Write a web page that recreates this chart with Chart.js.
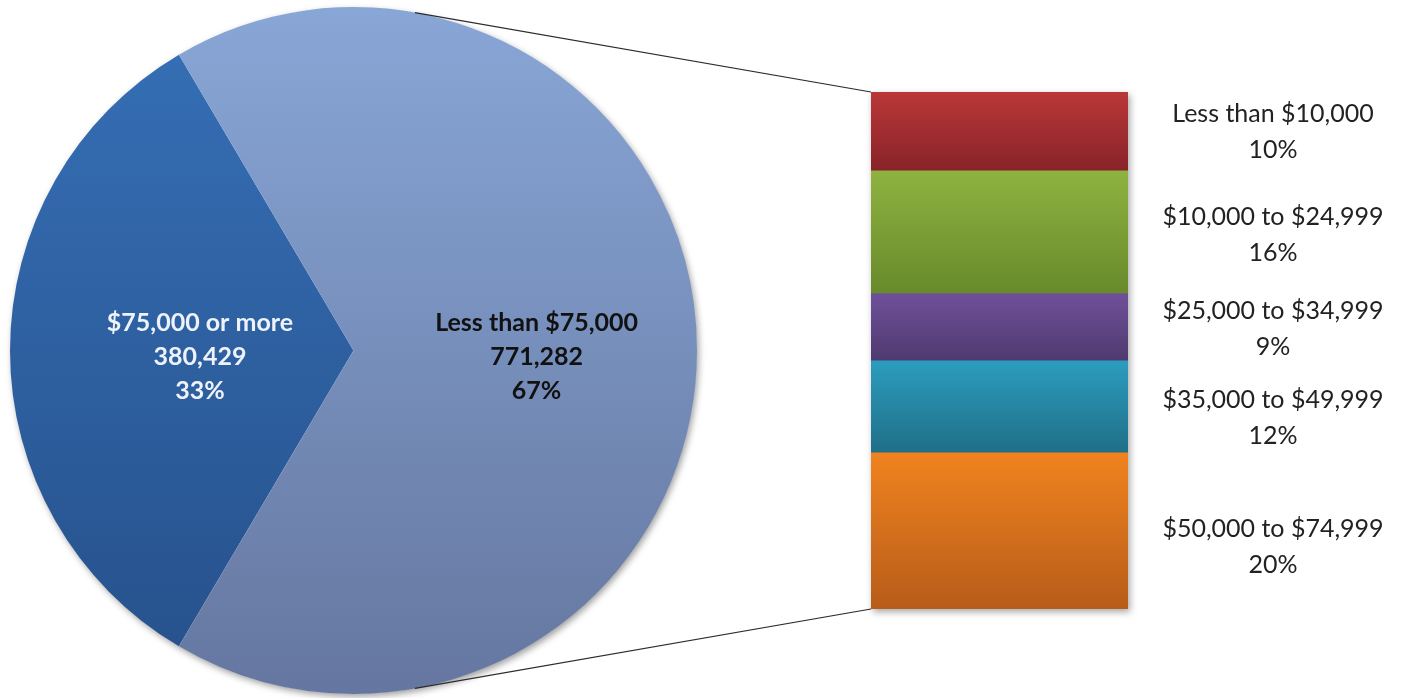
<!DOCTYPE html>
<html><head><meta charset="utf-8">
<script src="https://cdn.jsdelivr.net/npm/chart.js@4.4.1/dist/chart.umd.min.js"></script>
<style>
html,body{margin:0;padding:0;background:#fff;}
#wrap{position:relative;width:1405px;height:698px;overflow:hidden;}
#wrap canvas{position:absolute;left:0;top:0;}
</style></head><body>
<div id="wrap"><canvas id="pie" width="1405" height="698"></canvas><canvas id="bar" width="1405" height="698"></canvas></div>
<script>
// ---- data ----
const pieLabels = ['$75,000 or more', 'Less than $75,000'];
const pieValues = [380429, 771282];
const barLabels = ['Less than $10,000', '$10,000 to $24,999', '$25,000 to $34,999', '$35,000 to $49,999', '$50,000 to $74,999'];
const barValues = [10.1, 15.9, 8.7, 11.9, 20.3];

// ---- styles ----
const pieTop = ['#3670b7', '#88a6d6'];
const pieBottom = ['#26508a', '#6577a0'];
const pieTextColor = ['#eef2fa', '#111111'];
const pieLabelRadius = [0.447, 0.533];
const barTop = ['#ba3737', '#8eb340', '#6f509a', '#2c9dbf', '#f1831f'];
const barBottom = ['#88232a', '#688a2b', '#4f3a70', '#1f6f88', '#b75c19'];
const barLabelDy = [1, 3, 2, 12, 16];
const FONT = 'Lato, "Open Sans", sans-serif';

const barTotal = barValues.reduce((a, b) => a + b, 0);
const pieTotal = pieValues.reduce((a, b) => a + b, 0);

// ---------- stacked bar (breakdown) ----------
const barShadow = {
  id: 'barShadow',
  beforeDatasetsDraw(chart) {
    const first = chart.getDatasetMeta(0).data[0];
    const last = chart.getDatasetMeta(barValues.length - 1).data[0];
    if (!first || !last) return;
    const ctx = chart.ctx;
    const left = first.x - first.width / 2;
    const top = Math.min(first.y, first.base);
    const bottom = Math.max(last.y, last.base);
    ctx.save();
    ctx.shadowColor = 'rgba(0,0,0,0.35)';
    ctx.shadowBlur = 7;
    ctx.shadowOffsetX = 2;
    ctx.shadowOffsetY = 3;
    ctx.fillStyle = '#ffffff';
    ctx.fillRect(left, top, first.width, bottom - top);
    ctx.restore();
  }
};
const barText = {
  id: 'barText',
  afterDatasetsDraw(chart) {
    const ctx = chart.ctx;
    ctx.save();
    ctx.font = '25px ' + FONT;
    ctx.fillStyle = '#222222';
    ctx.textAlign = 'center';
    ctx.textBaseline = 'middle';
    const x = chart.chartArea.right + 145;
    barValues.forEach((v, i) => {
      const el = chart.getDatasetMeta(i).data[0];
      const cy = (el.y + el.base) / 2 + barLabelDy[i];
      ctx.fillText(barLabels[i], x, cy - 18);
      ctx.fillText(Math.round(v) + '%', x, cy + 18);
    });
    ctx.restore();
  }
};
function barGradient(c) {
  const chart = c.chart, i = c.datasetIndex;
  const y = chart.scales.y;
  if (!y || !chart.chartArea) return barTop[i];
  let start = 0;
  for (let k = 0; k < i; k++) start += barValues[k];
  const y0 = y.getPixelForValue(start), y1 = y.getPixelForValue(start + barValues[i]);
  if (!isFinite(y0) || !isFinite(y1)) return barTop[i];
  const g = chart.ctx.createLinearGradient(0, y0, 0, y1);
  g.addColorStop(0, barTop[i]);
  g.addColorStop(1, barBottom[i]);
  return g;
}
const barChart = new Chart(document.getElementById('bar'), {
  type: 'bar',
  data: {
    labels: ['Less than $75,000'],
    datasets: barValues.map((v, i) => ({
      label: barLabels[i],
      data: [v],
      backgroundColor: barGradient,
      borderWidth: 0,
      barPercentage: 1,
      categoryPercentage: 1
    }))
  },
  options: {
    responsive: false,
    animation: false,
    layout: { padding: { left: 871, right: 277, top: 92, bottom: 89 } },
    scales: {
      x: { display: false, stacked: true },
      y: { display: false, stacked: true, reverse: true, min: 0, max: barTotal }
    },
    plugins: { legend: { display: false }, tooltip: { enabled: false } }
  },
  plugins: [barShadow, barText]
});

// ---------- pie ----------
const pieShadow = {
  id: 'pieShadow',
  beforeDatasetsDraw(chart) {
    const arc = chart.getDatasetMeta(0).data[0];
    if (!arc) return;
    const ctx = chart.ctx;
    ctx.save();
    ctx.shadowColor = 'rgba(0,0,0,0.4)';
    ctx.shadowBlur = 7;
    ctx.shadowOffsetX = 2;
    ctx.shadowOffsetY = 3;
    ctx.fillStyle = '#ffffff';
    ctx.beginPath();
    ctx.arc(arc.x, arc.y, arc.outerRadius - 0.5, 0, Math.PI * 2);
    ctx.fill();
    ctx.restore();
  }
};
const pieText = {
  id: 'pieText',
  afterDatasetsDraw(chart) {
    const ctx = chart.ctx;
    const arcs = chart.getDatasetMeta(0).data;
    ctx.save();
    ctx.font = 'bold 25px ' + FONT;
    ctx.textAlign = 'center';
    ctx.textBaseline = 'middle';
    arcs.forEach((arc, i) => {
      const mid = (arc.startAngle + arc.endAngle) / 2;
      const r = arc.outerRadius * pieLabelRadius[i];
      const x = arc.x + r * Math.cos(mid);
      const y = arc.y + r * Math.sin(mid) + 6;
      ctx.fillStyle = pieTextColor[i];
      const lines = [pieLabels[i], pieValues[i].toLocaleString('en-US'), Math.round(pieValues[i] / pieTotal * 100) + '%'];
      lines.forEach((t, k) => ctx.fillText(t, x, y + (k - 1) * 34));
    });
    ctx.restore();
  }
};
const connectors = {
  id: 'connectors',
  afterDraw(chart) {
    const arc = chart.getDatasetMeta(0).data[1];
    const first = barChart.getDatasetMeta(0).data[0];
    const last = barChart.getDatasetMeta(barValues.length - 1).data[0];
    if (!arc || !first || !last) return;
    const ctx = chart.ctx;
    const off = 10.3 * Math.PI / 180;
    const a1 = -Math.PI / 2 + off, a2 = Math.PI / 2 - off;
    const bx = first.x - first.width / 2;
    const bTop = Math.min(first.y, first.base);
    const bBot = Math.max(last.y, last.base);
    ctx.save();
    ctx.strokeStyle = '#2b2b2b';
    ctx.lineWidth = 1.2;
    ctx.beginPath();
    ctx.moveTo(arc.x + arc.outerRadius * Math.cos(a1), arc.y + arc.outerRadius * Math.sin(a1));
    ctx.lineTo(bx, bTop);
    ctx.moveTo(arc.x + arc.outerRadius * Math.cos(a2), arc.y + arc.outerRadius * Math.sin(a2));
    ctx.lineTo(bx, bBot);
    ctx.stroke();
    ctx.restore();
  }
};
function pieGradient(c) {
  const chart = c.chart, i = c.dataIndex;
  const area = chart.chartArea;
  if (!area) return pieTop[i];
  const g = chart.ctx.createLinearGradient(0, area.top, 0, area.bottom);
  g.addColorStop(0, pieTop[i]);
  g.addColorStop(1, pieBottom[i]);
  return g;
}
const darkShare = pieValues[0] / pieTotal * 360;
new Chart(document.getElementById('pie'), {
  type: 'pie',
  data: {
    labels: pieLabels,
    datasets: [{ data: pieValues, backgroundColor: pieGradient, borderWidth: 0 }]
  },
  options: {
    responsive: false,
    animation: false,
    rotation: 270 - darkShare / 2,
    layout: { padding: { left: 10, top: 7, right: 708, bottom: 4 } },
    plugins: { legend: { display: false }, tooltip: { enabled: false } }
  },
  plugins: [pieShadow, pieText, connectors]
});
</script>
</body></html>
